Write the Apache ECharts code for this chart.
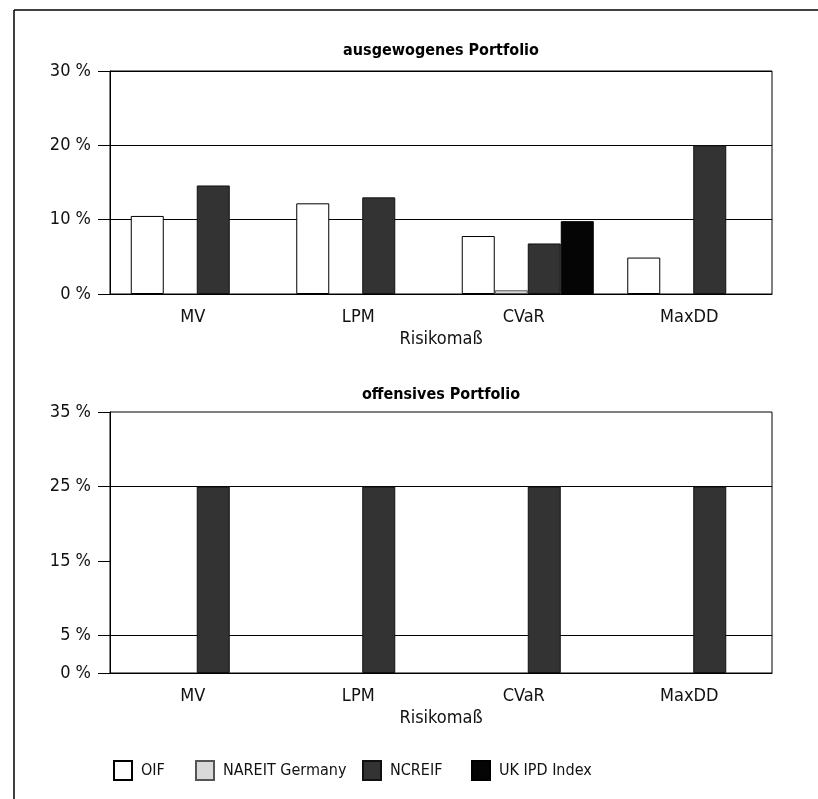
<!DOCTYPE html>
<html>
<head>
<meta charset="utf-8">
<script src="https://cdn.jsdelivr.net/npm/echarts@6/dist/echarts.min.js"></script>
<style>
html,body{margin:0;padding:0;background:#fff;}
#chart{width:818px;height:799px;}
</style>
</head>
<body>
<div id="chart"></div>
<script>
// ---- data ----
var categories = ['MV', 'LPM', 'CVaR', 'MaxDD'];
var seriesNames = ['OIF', 'NAREIT Germany', 'NCREIF', 'UK IPD Index'];
// ausgewogenes Portfolio (%)
var balOIF    = [10.5, 12.2, 7.8, 4.9];
var balNAREIT = [null, null, 0.5, null];
var balNCREIF = [14.6, 13.0, 6.8, 20.0];
var balUKIPD  = [null, null, 9.8, null];
// offensives Portfolio (%)
var offOIF    = [null, null, null, null];
var offNAREIT = [null, null, null, null];
var offNCREIF = [25, 25, 25, 25];
var offUKIPD  = [null, null, null, null];
var topTicks = [0, 10, 20, 30];
var bottomTicks = [0, 5, 15, 25, 35];
var titleTop = 'ausgewogenes Portfolio';
var titleBottom = 'offensives Portfolio';
var axisName = 'Risikomaß';

var FONT = "'Liberation Sans Narrow', 'DejaVu Sans Condensed', 'Roboto Condensed', sans-serif";
var styles = [
  {color: '#ffffff', borderColor: '#000', borderWidth: 1},
  {color: '#d9d9d9', borderColor: '#555', borderWidth: 1},
  {color: '#333333', borderColor: '#111', borderWidth: 1},
  {color: '#050505', borderColor: '#000', borderWidth: 1}
];
var legendLefts = [113, 195, 362, 471];

function mkSeries(dataArrs, idx) {
  var out = [{
    type: 'bar', name: '_pad' + idx, data: [null, null, null, null],
    xAxisIndex: idx, yAxisIndex: idx, barWidth: 8, barGap: '0%', silent: true
  }];
  dataArrs.forEach(function (d, i) {
    out.push({
      type: 'bar', name: seriesNames[i], data: d,
      xAxisIndex: idx, yAxisIndex: idx,
      barWidth: 33, barGap: '0%',
      itemStyle: styles[i]
    });
  });
  return out;
}

var axisLabelStyle = {color: '#111', fontFamily: FONT, fontSize: 18};

function xAxis(idx) {
  return {
    type: 'category', gridIndex: idx, data: categories,
    axisLine: {show: true, lineStyle: {color: '#000', width: 1}},
    axisTick: {show: false},
    axisLabel: {color: '#111', fontFamily: FONT, fontSize: 18, margin: 14},
    name: axisName, nameLocation: 'middle', nameGap: 36,
    nameTextStyle: {color: '#111', fontFamily: FONT, fontSize: 18}
  };
}

var legends = seriesNames.map(function (n, i) {
  return {
    data: [n], left: legendLefts[i], top: 760, itemWidth: 18, itemHeight: 19,
    icon: 'rect', selectedMode: false, padding: 0,
    textStyle: {color: '#111', fontFamily: FONT, fontSize: 16, padding: [0, 0, 0, 4]}
  };
});

var chart = echarts.init(document.getElementById('chart'), null, {renderer: 'canvas'});
var option = {
  animation: false,
  backgroundColor: '#fff',
  title: [
    {text: titleTop, left: 436, top: 38, textAlign: 'center',
     textStyle: {fontFamily: FONT, fontSize: 16, fontWeight: 'bold', color: '#000'}},
    {text: titleBottom, left: 436, top: 382, textAlign: 'center',
     textStyle: {fontFamily: FONT, fontSize: 16, fontWeight: 'bold', color: '#000'}}
  ],
  legend: legends,
  grid: [
    {left: 110, right: 46, top: 71, height: 223, show: true, borderColor: '#000', borderWidth: 1, backgroundColor: 'transparent'},
    {left: 110, right: 46, top: 412, height: 261, show: true, borderColor: '#000', borderWidth: 1, backgroundColor: 'transparent'}
  ],
  xAxis: [xAxis(0), xAxis(1)],
  yAxis: [
    {
      type: 'value', gridIndex: 0, min: 0, max: 30, interval: 10,
      axisLine: {show: true, lineStyle: {color: '#000'}},
      axisTick: {show: true, length: 12, lineStyle: {color: '#000'}, customValues: topTicks},
      axisLabel: Object.assign({margin: 19, formatter: '{value} %', customValues: topTicks}, axisLabelStyle),
      splitLine: {show: true, lineStyle: {color: '#000', width: 1}}
    },
    {
      type: 'value', gridIndex: 1, min: 0, max: 35, interval: 5,
      axisLine: {show: true, lineStyle: {color: '#000'}},
      axisTick: {show: true, length: 12, lineStyle: {color: '#000'}, customValues: bottomTicks},
      axisLabel: Object.assign({margin: 19, formatter: '{value} %', customValues: bottomTicks}, axisLabelStyle),
      splitLine: {show: true, lineStyle: {color: ['#000', '#000', 'rgba(0,0,0,0)', '#000', 'rgba(0,0,0,0)', '#000', 'rgba(0,0,0,0)', '#000'], width: 1}}
    }
  ],
  series: mkSeries([balOIF, balNAREIT, balNCREIF, balUKIPD], 0)
    .concat(mkSeries([offOIF, offNAREIT, offNCREIF, offUKIPD], 1)),
  graphic: [
    {type: 'line', shape: {x1: 14, y1: 10, x2: 818, y2: 10}, style: {stroke: '#000', lineWidth: 1.5}},
    {type: 'line', shape: {x1: 14, y1: 10, x2: 14, y2: 799}, style: {stroke: '#000', lineWidth: 1.5}}
  ]
};
chart.setOption(option);
</script>
</body>
</html>
